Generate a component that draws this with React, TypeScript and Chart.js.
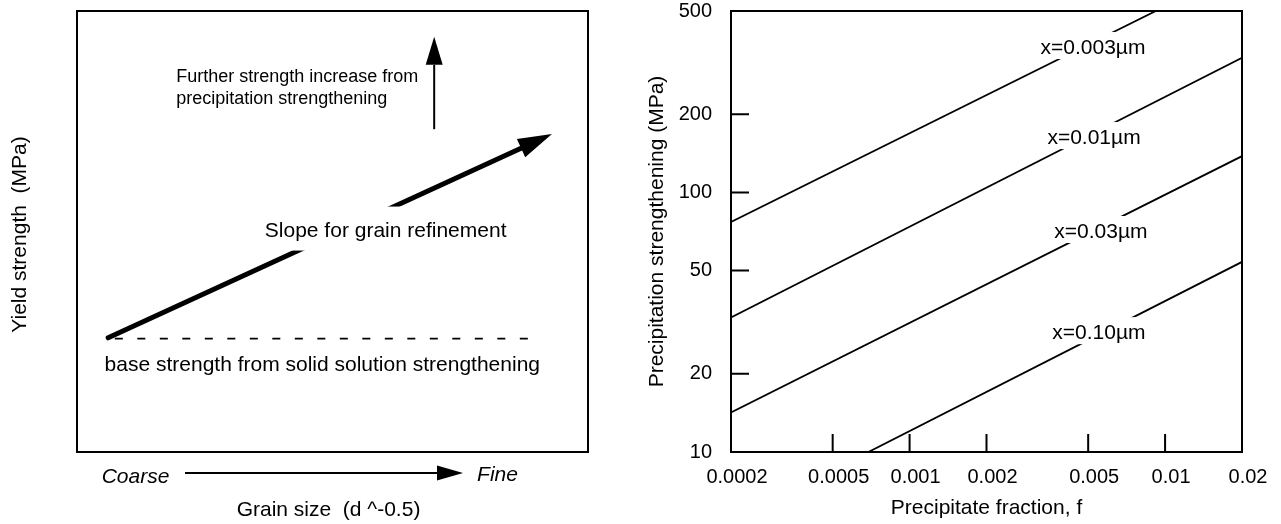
import React, { useEffect, useRef } from "react";
import { Chart, registerables } from "chart.js";

Chart.register(...registerables);

const FONT = '"Liberation Sans", Arial, Helvetica, sans-serif';

// ---------- Left panel (schematic, arbitrary units 0-100) ----------
const slopeX = [6.1, 86.9];
const slopeY = [25.9, 68.9];
const baseLineX = [7.4, 90.4];
const baseLineY = [25.7, 25.7];
const precipArrowX = [69.9, 69.9];
const precipArrowY = [73.2, 87.8];

// ---------- Right panel ----------
const fractionTicks = [0.0002, 0.0005, 0.001, 0.002, 0.005, 0.01, 0.02];
const fractionTickLabels = ["0.0002", "0.0005", "0.001", "0.002", "0.005", "0.01", "0.02"];
const strengthTicks = [10, 20, 50, 100, 200, 500];
const strengthTickLabels = ["10", "20", "50", "100", "200", "500"];

const spacingLabels = ["x=0.003µm", "x=0.01µm", "x=0.03µm", "x=0.10µm"];
const f0003 = [0.0002, 0.0092];
const s0003 = [77, 500];
const f001 = [0.0002, 0.02];
const s001 = [33, 330];
const f003 = [0.0002, 0.02];
const s003 = [14.2, 138];
const f010 = [0.00069, 0.02];
const s010 = [10, 54];
const labelF = [0.00522, 0.00527, 0.00561, 0.00551];
const labelS = [360, 162, 70.4, 28.7];

const pts = (xs: number[], ys: number[]) => xs.map((x, i) => ({ x, y: ys[i] }));

const arrowPlugin = {
  id: "arrowHeads",
  afterDatasetsDraw(chart: any) {
    const ctx = chart.ctx;
    chart.data.datasets.forEach((ds: any, i: number) => {
      if (!ds.arrow) return;
      const p = chart.getDatasetMeta(i).data;
      const a = p[p.length - 2];
      const b = p[p.length - 1];
      const dx = b.x - a.x;
      const dy = b.y - a.y;
      const len = Math.hypot(dx, dy);
      const ux = dx / len;
      const uy = dy / len;
      const hw = ds.arrow.halfWidth;
      ctx.save();
      ctx.fillStyle = "#000";
      ctx.beginPath();
      ctx.moveTo(b.x + ux * ds.arrow.length, b.y + uy * ds.arrow.length);
      ctx.lineTo(b.x - uy * hw, b.y + ux * hw);
      ctx.lineTo(b.x + uy * hw, b.y - ux * hw);
      ctx.closePath();
      ctx.fill();
      ctx.restore();
    });
  },
};

const leftNotes = [
  { text: "Further strength increase from", x: 19.4, y: 85.0, align: "left", size: 18, pad: null as any },
  { text: "precipitation strengthening", x: 19.4, y: 80.0, align: "left", size: 18, pad: null as any },
  { text: "Slope for grain refinement", x: 60.4, y: 50.1, align: "center", size: 21, pad: { top: 14, bottom: 9, side: 4 } },
  { text: "base strength from solid solution strengthening", x: 48.0, y: 19.7, align: "center", size: 21, pad: null as any },
];

const leftDecor = {
  id: "leftDecor",
  afterDatasetsDraw(chart: any) {
    const { ctx, chartArea: ca, scales } = chart;
    ctx.save();
    leftNotes.forEach((n) => {
      ctx.font = `${n.size}px ${FONT}`;
      const px = scales.x.getPixelForValue(n.x);
      const py = scales.y.getPixelForValue(n.y);
      const w = ctx.measureText(n.text).width;
      if (n.pad) {
        const lx = n.align === "center" ? px - w / 2 : px;
        ctx.fillStyle = "#fff";
        ctx.fillRect(lx - n.pad.side, py - n.size / 2 - n.pad.top, w + 2 * n.pad.side, n.size + n.pad.top + n.pad.bottom);
      }
      ctx.fillStyle = "#000";
      ctx.textAlign = n.align as CanvasTextAlign;
      ctx.textBaseline = "middle";
      ctx.fillText(n.text, px, py);
    });
    ctx.strokeStyle = "#000";
    ctx.lineWidth = 2;
    ctx.strokeRect(ca.left, ca.top, ca.right - ca.left, ca.bottom - ca.top);
    ctx.fillStyle = "#000";
    ctx.textBaseline = "middle";
    ctx.textAlign = "center";
    ctx.font = `italic 21px ${FONT}`;
    ctx.fillText("Coarse", ca.left + 58.5, ca.bottom + 25);
    ctx.fillText("Fine", ca.left + 420.5, ca.bottom + 23);
    const ay = ca.bottom + 21;
    ctx.lineWidth = 2;
    ctx.beginPath();
    ctx.moveTo(ca.left + 108, ay);
    ctx.lineTo(ca.left + 362, ay);
    ctx.stroke();
    ctx.beginPath();
    ctx.moveTo(ca.left + 386, ay);
    ctx.lineTo(ca.left + 360, ay - 7.5);
    ctx.lineTo(ca.left + 360, ay + 7.5);
    ctx.closePath();
    ctx.fill();
    ctx.font = `21px ${FONT}`;
    ctx.fillText("Grain size  (d ^-0.5)", (ca.left + ca.right) / 2 - 4, ca.bottom + 58);
    ctx.save();
    ctx.translate(ca.left - 57, (ca.top + ca.bottom) / 2 + 3);
    ctx.rotate(-Math.PI / 2);
    ctx.fillText("Yield strength  (MPa)", 0, 0);
    ctx.restore();
    ctx.restore();
  },
};

const rightDecor = {
  id: "rightDecor",
  afterDatasetsDraw(chart: any) {
    const { ctx, chartArea: ca, scales } = chart;
    ctx.save();
    ctx.font = `21px ${FONT}`;
    ctx.textAlign = "center";
    ctx.textBaseline = "middle";
    spacingLabels.forEach((t, i) => {
      const px = scales.x.getPixelForValue(labelF[i]);
      const py = scales.y.getPixelForValue(labelS[i]);
      const w = ctx.measureText(t).width;
      ctx.fillStyle = "#fff";
      ctx.fillRect(px - w / 2 - 2, py - 16, w + 4, 27);
      ctx.fillStyle = "#000";
      ctx.fillText(t, px, py);
    });
    ctx.strokeStyle = "#000";
    ctx.lineWidth = 2;
    ctx.strokeRect(ca.left, ca.top, ca.right - ca.left, ca.bottom - ca.top);
    ctx.beginPath();
    fractionTicks.slice(1, -1).forEach((v) => {
      const x = scales.x.getPixelForValue(v);
      ctx.moveTo(x, ca.bottom);
      ctx.lineTo(x, ca.bottom - 18);
    });
    strengthTicks.slice(1, -1).forEach((v) => {
      const y = scales.y.getPixelForValue(v);
      ctx.moveTo(ca.left, y);
      ctx.lineTo(ca.left + 18, y);
    });
    ctx.stroke();
    ctx.fillStyle = "#000";
    ctx.font = `21px ${FONT}`;
    ctx.fillText("Precipitate fraction, f", (ca.left + ca.right) / 2, ca.bottom + 56);
    ctx.save();
    ctx.translate(ca.left - 74, (ca.top + ca.bottom) / 2);
    ctx.rotate(-Math.PI / 2);
    ctx.fillText("Precipitation strengthening (MPa)", 0, 0);
    ctx.restore();
    ctx.restore();
  },
};

function leftConfig(): any {
  return {
    type: "line",
    data: {
      datasets: [
        {
          data: pts(slopeX, slopeY),
          borderColor: "#000",
          borderWidth: 5,
          borderCapStyle: "round",
          pointRadius: 0,
          arrow: { length: 34, halfWidth: 10 },
        },
        {
          data: pts(baseLineX, baseLineY),
          borderColor: "#000",
          borderWidth: 1.8,
          borderDash: [8, 14.5],
          pointRadius: 0,
        },
        {
          data: pts(precipArrowX, precipArrowY),
          borderColor: "#000",
          borderWidth: 2,
          pointRadius: 0,
          arrow: { length: 28, halfWidth: 8.5 },
        },
      ],
    },
    options: {
      responsive: false,
      animation: false,
      events: [],
      layout: { padding: { left: 77, top: 11, right: 52, bottom: 72 } },
      plugins: { legend: { display: false }, tooltip: { enabled: false } },
      scales: {
        x: { type: "linear", min: 0, max: 100, display: false },
        y: { type: "linear", min: 0, max: 100, display: false },
      },
    },
    plugins: [arrowPlugin, leftDecor],
  };
}

function rightConfig(): any {
  const line = (xs: number[], ys: number[]) => ({
    data: pts(xs, ys),
    borderColor: "#000",
    borderWidth: 1.8,
    pointRadius: 0,
    tension: 0,
  });
  return {
    type: "line",
    data: {
      datasets: [line(f0003, s0003), line(f001, s001), line(f003, s003), line(f010, s010)],
    },
    options: {
      responsive: false,
      animation: false,
      events: [],
      layout: { padding: { left: 0, top: 11, right: 39, bottom: 0 } },
      plugins: { legend: { display: false }, tooltip: { enabled: false } },
      scales: {
        x: {
          type: "logarithmic",
          position: "bottom",
          min: 0.0002,
          max: 0.02,
          afterBuildTicks: (s: any) => {
            s.ticks = fractionTicks.map((v) => ({ value: v }));
          },
          afterFit: (s: any) => {
            s.height = 72;
            s.paddingLeft = 0;
            s.paddingRight = 0;
          },
          grid: { display: false },
          border: { display: false },
          ticks: {
            autoSkip: false,
            maxRotation: 0,
            padding: 5,
            labelOffset: 6,
            color: "#000",
            font: { family: FONT, size: 20 },
            callback: (_v: any, i: number) => fractionTickLabels[i],
          },
        },
        y: {
          type: "logarithmic",
          min: 10,
          max: 500,
          afterBuildTicks: (s: any) => {
            s.ticks = strengthTicks.map((v) => ({ value: v }));
          },
          afterFit: (s: any) => {
            s.width = 91;
            s.paddingTop = 0;
            s.paddingBottom = 0;
          },
          grid: { display: false },
          border: { display: false },
          ticks: {
            autoSkip: false,
            padding: 11,
            color: "#000",
            font: { family: FONT, size: 20, lineHeight: 1 },
            callback: (_v: any, i: number) => strengthTickLabels[i],
          },
        },
      },
    },
    plugins: [rightDecor],
  };
}

export default function App() {
  const leftRef = useRef<HTMLCanvasElement>(null);
  const rightRef = useRef<HTMLCanvasElement>(null);
  useEffect(() => {
    const left = new Chart(leftRef.current as HTMLCanvasElement, leftConfig());
    const right = new Chart(rightRef.current as HTMLCanvasElement, rightConfig());
    return () => {
      left.destroy();
      right.destroy();
    };
  }, []);
  return (
    <div style={{ position: "fixed", left: 0, top: 0, width: 1281, height: 524, background: "#fff" }}>
      <canvas ref={leftRef} width={640} height={524} style={{ position: "absolute", left: 0, top: 0, width: 640, height: 524 }} />
      <canvas ref={rightRef} width={641} height={524} style={{ position: "absolute", left: 640, top: 0, width: 641, height: 524 }} />
    </div>
  );
}
